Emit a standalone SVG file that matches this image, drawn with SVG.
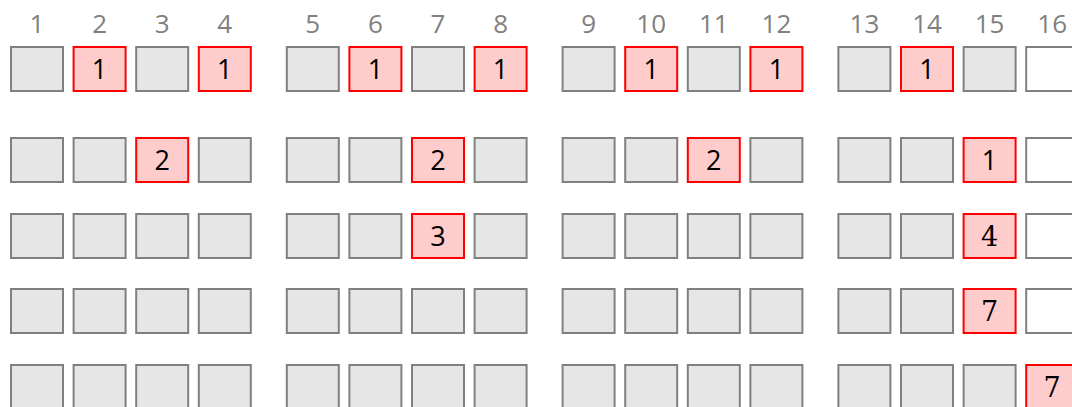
<svg xmlns="http://www.w3.org/2000/svg" width="1072" height="407" viewBox="0 0 1072 407">
<style>
.g{fill:#e6e6e6;stroke:#808080;stroke-width:2}
.w{fill:#ffffff;stroke:#808080;stroke-width:2}
.r{fill:#ffcccc;stroke:#ff0000;stroke-width:2}
.h{font-family:"Open Sans","Noto Sans",sans-serif;font-size:26px;fill:#808080;text-anchor:middle}
.t{font-family:"Open Sans","Noto Sans",sans-serif;font-size:27px;fill:#000000;text-anchor:middle}
.s{font-family:"DejaVu Serif","Liberation Serif",serif;font-size:27px;fill:#000000;text-anchor:middle}
</style>
<rect width="1072" height="407" fill="#ffffff"/>
<g id="headers">
<text class="h" x="37" y="33">1</text>
<text class="h" x="99.6" y="33">2</text>
<text class="h" x="162.2" y="33">3</text>
<text class="h" x="224.8" y="33">4</text>
<text class="h" x="312.8" y="33">5</text>
<text class="h" x="375.4" y="33">6</text>
<text class="h" x="438" y="33">7</text>
<text class="h" x="500.6" y="33">8</text>
<text class="h" x="588.6" y="33">9</text>
<text class="h" x="651.2" y="33">10</text>
<text class="h" x="713.8" y="33">11</text>
<text class="h" x="776.4" y="33">12</text>
<text class="h" x="864.4" y="33">13</text>
<text class="h" x="927" y="33">14</text>
<text class="h" x="989.6" y="33">15</text>
<text class="h" x="1052.2" y="33">16</text>
</g>
<g id="connectors"></g>
<g id="row1">
<g id="r1c1"><rect class="g" x="11" y="47" width="52" height="44"/></g>
<g id="r1c2"><rect class="r" x="73.6" y="47" width="52" height="44"/><text class="t" x="99.6" y="79">1</text></g>
<g id="r1c3"><rect class="g" x="136.2" y="47" width="52" height="44"/></g>
<g id="r1c4"><rect class="r" x="198.8" y="47" width="52" height="44"/><text class="t" x="224.8" y="79">1</text></g>
<g id="r1c5"><rect class="g" x="286.8" y="47" width="52" height="44"/></g>
<g id="r1c6"><rect class="r" x="349.4" y="47" width="52" height="44"/><text class="t" x="375.4" y="79">1</text></g>
<g id="r1c7"><rect class="g" x="412" y="47" width="52" height="44"/></g>
<g id="r1c8"><rect class="r" x="474.6" y="47" width="52" height="44"/><text class="t" x="500.6" y="79">1</text></g>
<g id="r1c9"><rect class="g" x="562.6" y="47" width="52" height="44"/></g>
<g id="r1c10"><rect class="r" x="625.2" y="47" width="52" height="44"/><text class="t" x="651.2" y="79">1</text></g>
<g id="r1c11"><rect class="g" x="687.8" y="47" width="52" height="44"/></g>
<g id="r1c12"><rect class="r" x="750.4" y="47" width="52" height="44"/><text class="t" x="776.4" y="79">1</text></g>
<g id="r1c13"><rect class="g" x="838.4" y="47" width="52" height="44"/></g>
<g id="r1c14"><rect class="r" x="901" y="47" width="52" height="44"/><text class="t" x="927" y="79">1</text></g>
<g id="r1c15"><rect class="g" x="963.6" y="47" width="52" height="44"/></g>
<g id="r1c16"><rect class="w" x="1026.2" y="47" width="52" height="44"/></g>
</g>
<g id="row2">
<g id="r2c1"><rect class="g" x="11" y="138" width="52" height="44"/></g>
<g id="r2c2"><rect class="g" x="73.6" y="138" width="52" height="44"/></g>
<g id="r2c3"><rect class="r" x="136.2" y="138" width="52" height="44"/><text class="t" x="162.2" y="170">2</text></g>
<g id="r2c4"><rect class="g" x="198.8" y="138" width="52" height="44"/></g>
<g id="r2c5"><rect class="g" x="286.8" y="138" width="52" height="44"/></g>
<g id="r2c6"><rect class="g" x="349.4" y="138" width="52" height="44"/></g>
<g id="r2c7"><rect class="r" x="412" y="138" width="52" height="44"/><text class="t" x="438" y="170">2</text></g>
<g id="r2c8"><rect class="g" x="474.6" y="138" width="52" height="44"/></g>
<g id="r2c9"><rect class="g" x="562.6" y="138" width="52" height="44"/></g>
<g id="r2c10"><rect class="g" x="625.2" y="138" width="52" height="44"/></g>
<g id="r2c11"><rect class="r" x="687.8" y="138" width="52" height="44"/><text class="t" x="713.8" y="170">2</text></g>
<g id="r2c12"><rect class="g" x="750.4" y="138" width="52" height="44"/></g>
<g id="r2c13"><rect class="g" x="838.4" y="138" width="52" height="44"/></g>
<g id="r2c14"><rect class="g" x="901" y="138" width="52" height="44"/></g>
<g id="r2c15"><rect class="r" x="963.6" y="138" width="52" height="44"/><text class="t" x="989.6" y="170">1</text></g>
<g id="r2c16"><rect class="w" x="1026.2" y="138" width="52" height="44"/></g>
</g>
<g id="row3">
<g id="r3c1"><rect class="g" x="11" y="214" width="52" height="44"/></g>
<g id="r3c2"><rect class="g" x="73.6" y="214" width="52" height="44"/></g>
<g id="r3c3"><rect class="g" x="136.2" y="214" width="52" height="44"/></g>
<g id="r3c4"><rect class="g" x="198.8" y="214" width="52" height="44"/></g>
<g id="r3c5"><rect class="g" x="286.8" y="214" width="52" height="44"/></g>
<g id="r3c6"><rect class="g" x="349.4" y="214" width="52" height="44"/></g>
<g id="r3c7"><rect class="r" x="412" y="214" width="52" height="44"/><text class="t" x="438" y="246">3</text></g>
<g id="r3c8"><rect class="g" x="474.6" y="214" width="52" height="44"/></g>
<g id="r3c9"><rect class="g" x="562.6" y="214" width="52" height="44"/></g>
<g id="r3c10"><rect class="g" x="625.2" y="214" width="52" height="44"/></g>
<g id="r3c11"><rect class="g" x="687.8" y="214" width="52" height="44"/></g>
<g id="r3c12"><rect class="g" x="750.4" y="214" width="52" height="44"/></g>
<g id="r3c13"><rect class="g" x="838.4" y="214" width="52" height="44"/></g>
<g id="r3c14"><rect class="g" x="901" y="214" width="52" height="44"/></g>
<g id="r3c15"><rect class="r" x="963.6" y="214" width="52" height="44"/><text class="s" x="989.6" y="246">4</text></g>
<g id="r3c16"><rect class="w" x="1026.2" y="214" width="52" height="44"/></g>
</g>
<g id="row4">
<g id="r4c1"><rect class="g" x="11" y="289" width="52" height="44"/></g>
<g id="r4c2"><rect class="g" x="73.6" y="289" width="52" height="44"/></g>
<g id="r4c3"><rect class="g" x="136.2" y="289" width="52" height="44"/></g>
<g id="r4c4"><rect class="g" x="198.8" y="289" width="52" height="44"/></g>
<g id="r4c5"><rect class="g" x="286.8" y="289" width="52" height="44"/></g>
<g id="r4c6"><rect class="g" x="349.4" y="289" width="52" height="44"/></g>
<g id="r4c7"><rect class="g" x="412" y="289" width="52" height="44"/></g>
<g id="r4c8"><rect class="g" x="474.6" y="289" width="52" height="44"/></g>
<g id="r4c9"><rect class="g" x="562.6" y="289" width="52" height="44"/></g>
<g id="r4c10"><rect class="g" x="625.2" y="289" width="52" height="44"/></g>
<g id="r4c11"><rect class="g" x="687.8" y="289" width="52" height="44"/></g>
<g id="r4c12"><rect class="g" x="750.4" y="289" width="52" height="44"/></g>
<g id="r4c13"><rect class="g" x="838.4" y="289" width="52" height="44"/></g>
<g id="r4c14"><rect class="g" x="901" y="289" width="52" height="44"/></g>
<g id="r4c15"><rect class="r" x="963.6" y="289" width="52" height="44"/><text class="s" x="989.6" y="321">7</text></g>
<g id="r4c16"><rect class="w" x="1026.2" y="289" width="52" height="44"/></g>
</g>
<g id="row5">
<g id="r5c1"><rect class="g" x="11" y="365" width="52" height="44"/></g>
<g id="r5c2"><rect class="g" x="73.6" y="365" width="52" height="44"/></g>
<g id="r5c3"><rect class="g" x="136.2" y="365" width="52" height="44"/></g>
<g id="r5c4"><rect class="g" x="198.8" y="365" width="52" height="44"/></g>
<g id="r5c5"><rect class="g" x="286.8" y="365" width="52" height="44"/></g>
<g id="r5c6"><rect class="g" x="349.4" y="365" width="52" height="44"/></g>
<g id="r5c7"><rect class="g" x="412" y="365" width="52" height="44"/></g>
<g id="r5c8"><rect class="g" x="474.6" y="365" width="52" height="44"/></g>
<g id="r5c9"><rect class="g" x="562.6" y="365" width="52" height="44"/></g>
<g id="r5c10"><rect class="g" x="625.2" y="365" width="52" height="44"/></g>
<g id="r5c11"><rect class="g" x="687.8" y="365" width="52" height="44"/></g>
<g id="r5c12"><rect class="g" x="750.4" y="365" width="52" height="44"/></g>
<g id="r5c13"><rect class="g" x="838.4" y="365" width="52" height="44"/></g>
<g id="r5c14"><rect class="g" x="901" y="365" width="52" height="44"/></g>
<g id="r5c15"><rect class="g" x="963.6" y="365" width="52" height="44"/></g>
<g id="r5c16"><rect class="r" x="1026.2" y="365" width="52" height="44"/><text class="s" x="1052.2" y="397">7</text></g>
</g>
</svg>
